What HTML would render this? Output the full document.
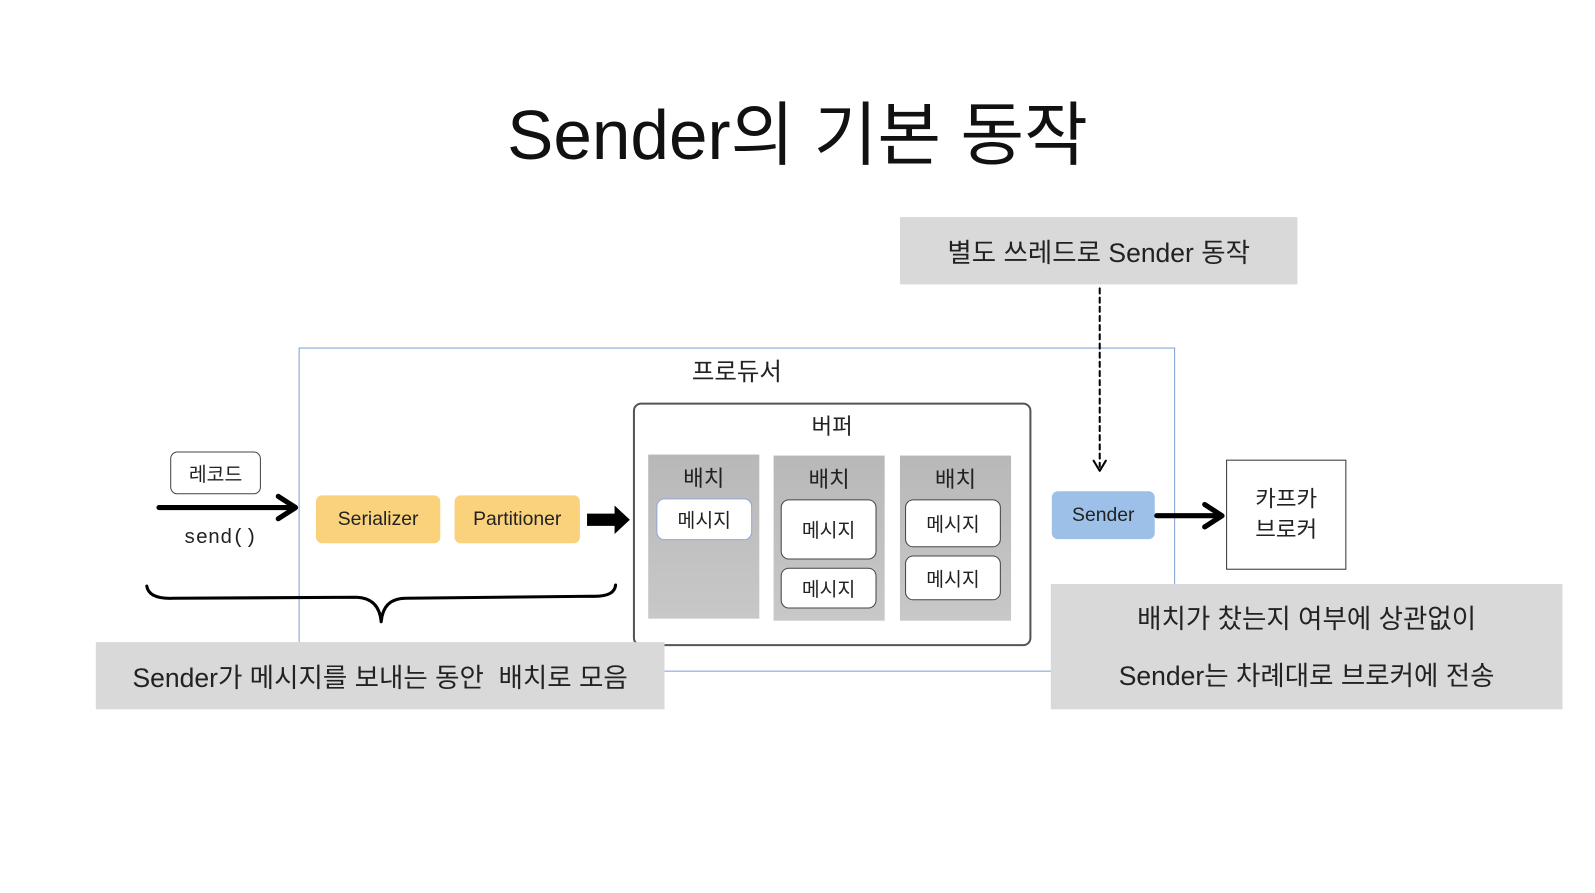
<!DOCTYPE html>
<html><head><meta charset="utf-8"><style>
body{margin:0;width:1595px;height:893px;background:#fff;position:relative;overflow:hidden;font-family:"Liberation Sans","Noto Sans CJK KR",sans-serif;color:#222}
#w{position:absolute;left:0;top:0;width:1565px;height:876px;transform:scale(1.0192);transform-origin:0 0}
.a{position:absolute;box-sizing:border-box}
.c{display:flex;align-items:center;justify-content:center;text-align:center}
.msg{background:#fff;border:1.5px solid #444;border-radius:8px;font-size:19px}
.batch{background:linear-gradient(#b8b8b8,#c8c8c8);font-size:22px;text-align:center;padding-top:6px}
.gray{background:#d9d9d9;font-size:26px}
.y{background:#fad27c;border-radius:6px;font-size:19px}
</style></head><body><div id="w">
<div class="a" style="left:0;top:77px;width:1565px;text-align:center;font-size:68px;color:#111">Sender의 기본 동작</div>

<div class="a" style="left:293px;top:341px;width:860px;height:318px;border:1.5px solid #7f9fd6"></div>
<div class="a" style="left:293px;top:345px;width:860px;text-align:center;font-size:24px">프로듀서</div>

<div class="a" style="left:621px;top:395px;width:391px;height:239px;border:2px solid #555;border-radius:8px;background:#fff"></div>
<div class="a" style="left:621px;top:401px;width:391px;text-align:center;font-size:22px">버퍼</div>
<div class="a batch" style="left:636px;top:446px;width:109px;height:161px">배치</div>
<div class="a batch" style="left:759px;top:447px;width:109px;height:162px">배치</div>
<div class="a batch" style="left:883px;top:447px;width:109px;height:162px">배치</div>
<div class="a msg c" style="left:644px;top:489px;width:94px;height:41px;border-color:#8ea6d8">메시지</div>
<div class="a msg c" style="left:766px;top:490px;width:94px;height:59px">메시지</div>
<div class="a msg c" style="left:766px;top:557px;width:94px;height:40px">메시지</div>
<div class="a msg c" style="left:888px;top:490px;width:94px;height:47px">메시지</div>
<div class="a msg c" style="left:888px;top:545px;width:94px;height:44px">메시지</div>

<div class="a c" style="left:167px;top:443px;width:89px;height:42px;border:1.5px solid #444;border-radius:7px;font-size:19px;background:#fff">레코드</div>
<div class="a" style="left:180px;top:517px;font-size:20px;font-family:'Liberation Mono',monospace">send()</div>
<div class="a y c" style="left:310px;top:486px;width:122px;height:47px">Serializer</div>
<div class="a y c" style="left:446px;top:486px;width:123px;height:47px">Partitioner</div>
<div class="a c" style="left:1032px;top:482px;width:101px;height:47px;background:#9dc0e8;border-radius:6px;font-size:19px">Sender</div>
<div class="a c" style="left:1203px;top:451px;width:118px;height:108px;border:1.5px solid #333;font-size:22px;line-height:30px;background:#fff">카프카<br>브로커</div>

<div class="a gray c" style="left:883px;top:213px;width:390px;height:66px">별도 쓰레드로 Sender 동작</div>
<div class="a gray c" style="left:94px;top:630px;width:558px;height:66px">Sender가 메시지를 보내는 동안 &nbsp;배치로 모음</div>
<div class="a gray c" style="left:1031px;top:573px;width:502px;height:123px;line-height:56px">배치가 찼는지 여부에 상관없이<br>Sender는 차례대로 브로커에 전송</div>

<svg class="a" style="left:0;top:0" width="1565" height="876">
<g stroke="#000" fill="none" stroke-linecap="round" stroke-linejoin="round">
<path d="M156 498H288" stroke-width="5"/><path d="M273 487L290 498L273 509" stroke-width="5"/>
<path d="M1135 506H1196" stroke-width="5"/><path d="M1182 495L1199 506L1182 517" stroke-width="5"/>
<path d="M144 575Q146 588 170 587L350 586Q372 587 374 610Q376 587 398 587L580 585Q603 586 604 574" stroke-width="3"/>
<path d="M1079 283V458" stroke-width="2" stroke-dasharray="5,4"/><path d="M1073 452L1079 462L1085 452" stroke-width="2"/>
</g>
<path d="M576 504H603V496L618 510L603 524V516H576Z" fill="#000"/>
</svg>
</div></body></html>
